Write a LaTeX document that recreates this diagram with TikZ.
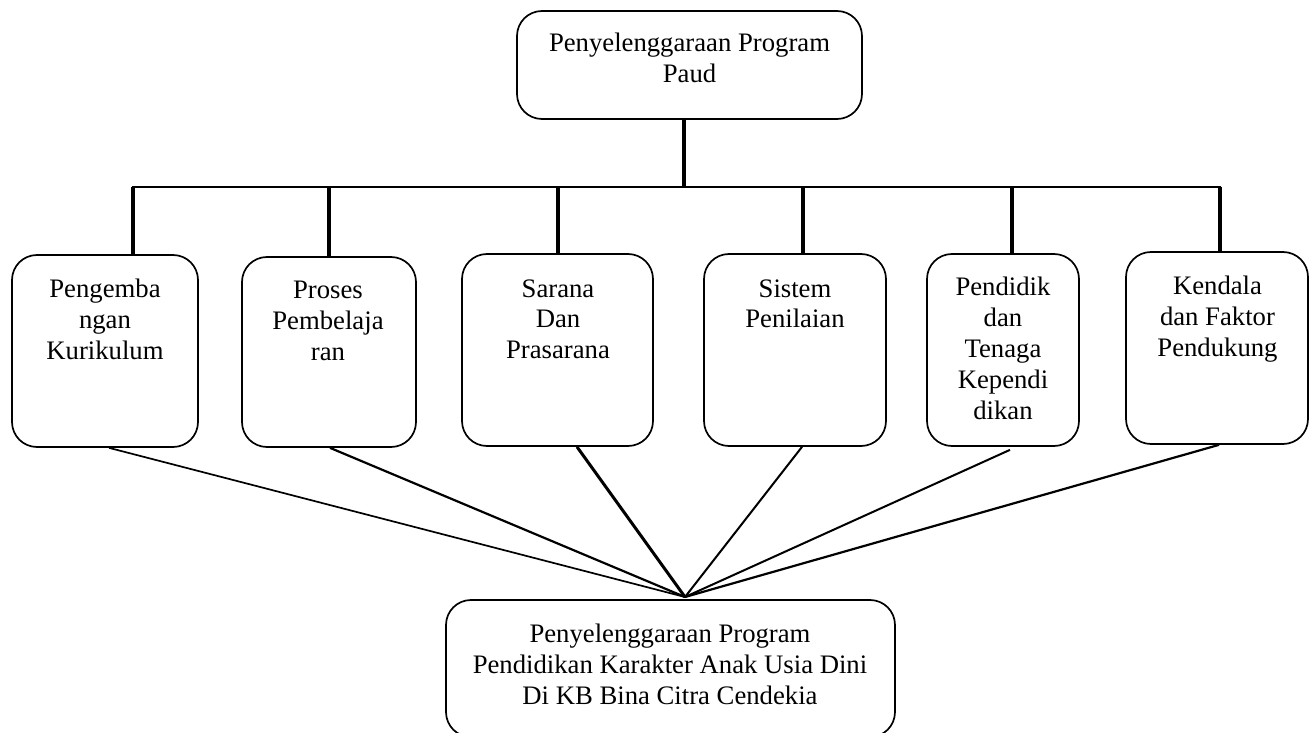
\documentclass[tikz,border=0pt]{standalone}
\usepackage{fontspec}
\setmainfont{Liberation Serif}
\begin{document}
\begin{tikzpicture}[x=0.5pt,y=-0.5pt,
  box/.style={draw, line width=0.85pt, rounded corners=12.5pt, inner sep=0pt, rectangle},
  txt/.style={inner sep=0pt, anchor=north, align=center, font=\fontsize{13.35}{15.4}\selectfont},
  drop/.style={line width=1.65pt},
  bus/.style={line width=1.3pt},
  fan/.style={line width=0.85pt},
  fanthick/.style={line width=1.5pt}]
\useasboundingbox (0,0) rectangle (1314,733);
\clip (0,0) rectangle (1314,733);
% boxes
\node[box, minimum width=172.5pt, minimum height=54pt] (b0) at (689.5,65) {};
\node[box, minimum width=93pt, minimum height=96pt] (b1) at (105,351) {};
\node[box, minimum width=87pt, minimum height=95pt] (b2) at (329,352) {};
\node[box, minimum width=95.5pt, minimum height=96pt] (b3) at (557.5,350) {};
\node[box, minimum width=91pt, minimum height=96pt] (b4) at (795,350) {};
\node[box, minimum width=76pt, minimum height=96pt] (b5) at (1003,350) {};
\node[box, minimum width=91pt, minimum height=96pt] (b6) at (1217,348) {};
\node[box, minimum width=224.5pt, minimum height=68.5pt] (b7) at (670.5,668.5) {};
% texts
\node[txt] (t0) at (689.5,33) {Penyelenggaraan Program\\Paud};
\node[txt] (t1) at (105,279) {Pengemba\\ngan\\Kurikulum};
\node[txt] (t2) at (328,281) {Proses\\Pembelaja\\ran};
\node[txt] (t3) at (558,279) {Sarana\\Dan\\Prasarana};
\node[txt] (t4) at (795,279) {Sistem\\Penilaian};
\node[txt] (t5) at (1003,277) {Pendidik\\dan\\Tenaga\\Kependi\\dikan};
\node[txt] (t6) at (1217.5,276) {Kendala\\dan Faktor\\Pendukung};
\node[txt] (t7) at (670,624) {Penyelenggaraan Program\\Pendidikan Karakter Anak Usia Dini\\Di KB Bina Citra Cendekia};
% bus
\coordinate (j0) at (684,187);
\coordinate (d1) at (133,187);
\coordinate (d2) at (329,187);
\coordinate (d3) at (558,187);
\coordinate (d4) at (803,187);
\coordinate (d5) at (1012,187);
\coordinate (d6) at (1220,187);
\draw[drop] (b0.south -| j0) -- (j0);
\draw[bus] ([xshift=-0.6pt]d1) -- ([xshift=0.6pt]d6);
\draw[drop] (d1) -- (d1 |- b1.north);
\draw[drop] (d2) -- (d2 |- b2.north);
\draw[drop] (d3) -- (d3 |- b3.north);
\draw[drop] (d4) -- (d4 |- b4.north);
\draw[drop] (d5) -- (d5 |- b5.north);
\draw[drop] (d6) -- (d6 |- b6.north);
% fan
\coordinate (fp) at (685,597);
\draw[fan] ([xshift=2pt]b1.south) -- (fp);
\draw[fan, line width=1.1pt] ([xshift=0.5pt]b2.south) -- (fp);
\draw[fanthick] ([xshift=9.75pt]b3.south) -- (fp);
\draw[fan, line width=1pt] ([xshift=3.5pt]b4.south) -- (fp);
\draw[fan, line width=1pt] ([xshift=3.5pt,yshift=-1.5pt]b5.south) -- (fp);
\draw[fan, line width=1.1pt] ([xshift=1pt]b6.south) -- (fp);
\end{tikzpicture}
\end{document}
